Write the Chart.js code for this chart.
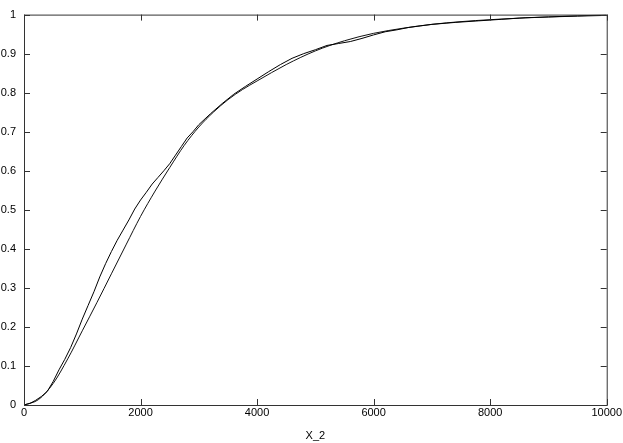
<!DOCTYPE html>
<html>
<head>
<meta charset="utf-8">
<script src="https://cdn.jsdelivr.net/npm/chart.js@4"></script>
<style>
  body { margin: 0; background: #fff; }
</style>
</head>
<body>
<canvas id="myChart" width="623" height="443"></canvas>
<script>
// fitted curve
const smoothX = [0, 250, 500, 750, 1000, 1250, 1500, 1750, 2000, 2250, 2500, 2750, 3000, 3250, 3500, 3750, 4000, 4500, 5000, 5500, 6000, 6500, 7000, 7500, 8000, 8500, 9000, 9500, 10000];
const smoothY = [0, 0.014, 0.055, 0.118, 0.19, 0.262, 0.336, 0.41, 0.483, 0.548, 0.608, 0.665, 0.712, 0.75, 0.782, 0.808, 0.83, 0.872, 0.907, 0.933, 0.952, 0.965, 0.975, 0.982, 0.987, 0.991, 0.994, 0.996, 0.998];

// empirical curve
const empX = [0, 100, 200, 300, 400, 500, 600, 700, 800, 900, 1000, 1100, 1200, 1300, 1400, 1500, 1600, 1700, 1800, 1900, 2000, 2100, 2200, 2300, 2400, 2500, 2600, 2700, 2800, 2900, 3000, 3200, 3400, 3600, 3800, 4000, 4200, 4400, 4600, 4800, 5000, 5200, 5400, 5600, 5800, 6000, 6200, 6400, 6600, 6800, 7000, 7400, 7800, 8200, 8600, 9000, 9500, 10000];
const empY = [0, 0.004, 0.012, 0.022, 0.035, 0.06, 0.09, 0.117, 0.147, 0.182, 0.22, 0.255, 0.29, 0.328, 0.362, 0.393, 0.422, 0.448, 0.474, 0.502, 0.525, 0.545, 0.566, 0.583, 0.6, 0.618, 0.64, 0.662, 0.684, 0.7, 0.718, 0.746, 0.772, 0.796, 0.816, 0.835, 0.854, 0.872, 0.888, 0.9, 0.91, 0.921, 0.926, 0.931, 0.939, 0.948, 0.956, 0.961, 0.967, 0.971, 0.975, 0.98, 0.984, 0.988, 0.992, 0.994, 0.997, 0.999];

const xTicks = [0, 2000, 4000, 6000, 8000, 10000];
const yTicks = [0, 0.1, 0.2, 0.3, 0.4, 0.5, 0.6, 0.7, 0.8, 0.9, 1];
const xTitle = "X_2";

function toPoints(xs, ys) {
  return xs.map((x, i) => ({ x: x, y: ys[i] }));
}

// gnuplot style frame with inward ticks on all four sides
const framePlugin = {
  id: "frame",
  afterDatasetsDraw(chart) {
    const ctx = chart.ctx;
    const a = chart.chartArea;
    const xs = chart.scales.x;
    const ys = chart.scales.y;
    ctx.save();
    ctx.strokeStyle = "#333";
    ctx.lineWidth = 1;
    ctx.beginPath();
    xTicks.forEach((v) => {
      const px = Math.round(xs.getPixelForValue(v)) + 0.5;
      ctx.moveTo(px, a.bottom);
      ctx.lineTo(px, a.bottom - 6);
      ctx.moveTo(px, a.top);
      ctx.lineTo(px, a.top + 6);
    });
    yTicks.forEach((v) => {
      const py = Math.round(ys.getPixelForValue(v)) + 0.5;
      ctx.moveTo(a.left, py);
      ctx.lineTo(a.left + 6, py);
      ctx.moveTo(a.right, py);
      ctx.lineTo(a.right - 6, py);
    });
    ctx.stroke();
    ctx.strokeRect(a.left + 0.5, a.top + 0.5, a.right - a.left, a.bottom - a.top);
    ctx.restore();
  },
};

function createChart() {
  const ctx = document.getElementById("myChart").getContext("2d");
  const myChart = new Chart(ctx, {
    type: "line",
    data: {
      datasets: [
        {
          label: "empirical",
          data: toPoints(empX, empY),
          borderColor: "#000",
          borderWidth: 1,
          pointRadius: 0,
          tension: 0,
          fill: false,
        },
        {
          label: "fitted",
          data: toPoints(smoothX, smoothY),
          borderColor: "#111",
          borderWidth: 1,
          pointRadius: 0,
          cubicInterpolationMode: "monotone",
          fill: false,
        },
      ],
    },
    options: {
      responsive: false,
      animation: false,
      layout: { padding: { top: 5, right: 16, left: 0, bottom: 0 } },
      plugins: {
        legend: { display: false },
        tooltip: { enabled: false },
      },
      scales: {
        x: {
          type: "linear",
          min: 0,
          max: 10000,
          afterBuildTicks: (scale) => {
            scale.ticks = xTicks.map((v) => ({ value: v }));
          },
          afterFit: (scale) => {
            scale.height = 38;
          },
          ticks: {
            padding: 1,
            color: "#000",
            font: { family: "Liberation Sans", size: 11 },
            maxRotation: 0,
            callback: (v) => String(v),
          },
          grid: { display: false, drawTicks: false },
          border: { display: false },
          title: {
            display: true,
            text: xTitle,
            color: "#000",
            font: { family: "Liberation Sans", size: 11 },
            padding: { top: 0, bottom: 0 },
          },
        },
        y: {
          type: "linear",
          min: 0,
          max: 1,
          afterBuildTicks: (scale) => {
            scale.ticks = yTicks.map((v) => ({ value: v }));
          },
          afterFit: (scale) => {
            scale.width = 24;
          },
          ticks: {
            padding: 8,
            color: "#000",
            font: { family: "Liberation Sans", size: 11 },
            callback: (v) => String(Number(v.toFixed(1))),
          },
          grid: { display: false, drawTicks: false },
          border: { display: false },
        },
      },
    },
    plugins: [framePlugin],
  });
  return myChart;
}

createChart();
</script>
</body>
</html>
